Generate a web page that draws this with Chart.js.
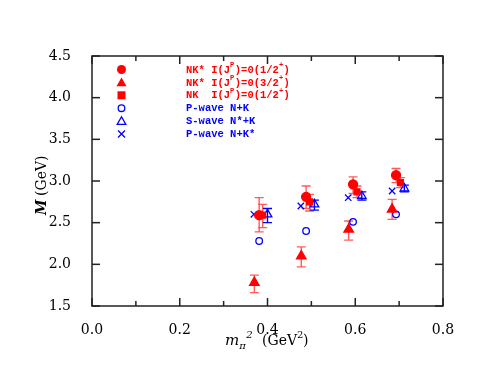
<!DOCTYPE html>
<html>
<head>
<meta charset="utf-8">
<script src="https://cdn.jsdelivr.net/npm/chart.js@4/dist/chart.umd.min.js"></script>
<style>
  html, body { margin: 0; padding: 0; background: #fff; }
  #wrap { width: 491px; height: 379px; }
</style>
</head>
<body>
<div id="wrap"><canvas id="c" width="491" height="379"></canvas></div>
<script>
// NK* I(J^P)=0(1/2+)  filled circles
const nkHalfX = [0.381, 0.488, 0.595, 0.693];
const nkHalfY = [2.59, 2.81, 2.96, 3.07];
const nkHalfHi = [2.80, 2.94, 3.05, 3.15];
const nkHalfLo = [2.39, 2.67, 2.85, 2.98];

// NK* I(J^P)=0(3/2+)  filled triangles
const nkThreeX = [0.370, 0.477, 0.585, 0.684];
const nkThreeY = [1.78, 2.10, 2.42, 2.66];
const nkThreeHi = [1.87, 2.21, 2.52, 2.78];
const nkThreeLo = [1.66, 1.97, 2.29, 2.54];

// NK I(J^P)=0(1/2+)  filled squares
const nkX = [0.389, 0.496, 0.604, 0.703];
const nkY = [2.59, 2.75, 2.87, 2.98];
const nkHi = [2.72, 2.84, 2.94, 3.04];
const nkLo = [2.44, 2.64, 2.80, 2.92];

// P-wave N+K  open circles
const pNKX = [0.381, 0.488, 0.595, 0.693];
const pNKY = [2.28, 2.40, 2.51, 2.60];

// S-wave N*+K  open triangles
const sNsKX = [0.400, 0.507, 0.615, 0.712];
const sNsKY = [2.60, 2.72, 2.82, 2.91];
const sNsKHi = [2.67, 2.77, 2.87, 2.95];
const sNsKLo = [2.50, 2.65, 2.77, 2.87];

// P-wave N+K*  crosses
const pNKsX = [0.369, 0.476, 0.584, 0.684];
const pNKsY = [2.60, 2.70, 2.80, 2.88];

const xTicks = [0.0, 0.2, 0.4, 0.6, 0.8];
const xMinorTicks = [0.1, 0.3, 0.5, 0.7];
const yTicks = [1.5, 2.0, 2.5, 3.0, 3.5, 4.0, 4.5];

const RED = "#ff0000";
const BLUE = "#0000ff";
const RED_ERR = "rgba(255,50,50,0.8)";

const pts = (xs, ys) => xs.map((x, i) => ({ x: x, y: ys[i] }));

const legendItems = [
    { style: "circle", fill: true, color: RED, label: ["NK* I(J", "P", ")=0(1/2", "+", ")"] },
    { style: "triangle", fill: true, color: RED, label: ["NK* I(J", "P", ")=0(3/2", "+", ")"] },
    { style: "rect", fill: true, color: RED, label: ["NK  I(J", "P", ")=0(1/2", "+", ")"] },
    { style: "circle", fill: false, color: BLUE, label: ["P-wave N+K"] },
    { style: "triangle", fill: false, color: BLUE, label: ["S-wave N*+K"] },
    { style: "crossRot", fill: false, color: BLUE, label: ["P-wave N+K*"] },
];

function ds(label, xs, ys, style, fill, color, r, lo, hi, ecol) {
    return {
        label: label,
        data: pts(xs, ys),
        pointStyle: style,
        pointRadius: r,
        pointHoverRadius: r,
        borderWidth: 1.3,
        borderColor: color,
        backgroundColor: fill ? color : "rgba(0,0,0,0)",
        errLo: lo, errHi: hi, errColor: ecol,
    };
}

const errorBars = {
    id: "errorBars",
    beforeDatasetsDraw(chart) {
        const ctx = chart.ctx;
        const xs = chart.scales.x, ys = chart.scales.y;
        chart.data.datasets.forEach(d => {
            if (!d.errLo) return;
            ctx.save();
            ctx.strokeStyle = d.errColor;
            ctx.lineWidth = 1.4;
            d.data.forEach((p, i) => {
                const px = xs.getPixelForValue(p.x);
                const y1 = ys.getPixelForValue(d.errHi[i]);
                const y2 = ys.getPixelForValue(d.errLo[i]);
                ctx.beginPath();
                ctx.moveTo(px, y1); ctx.lineTo(px, y2);
                ctx.moveTo(px - 4.5, y1); ctx.lineTo(px + 4.5, y1);
                ctx.moveTo(px - 4.5, y2); ctx.lineTo(px + 4.5, y2);
                ctx.stroke();
            });
            ctx.restore();
        });
    }
};

function marker(ctx, style, fill, color, x, y) {
    ctx.save();
    ctx.strokeStyle = color;
    ctx.fillStyle = color;
    ctx.lineWidth = 1.3;
    ctx.beginPath();
    if (style === "circle") {
        ctx.arc(x, y, fill ? 4.5 : 3.3, 0, Math.PI * 2);
    } else if (style === "triangle") {
        const s = fill ? 5 : 4.3;
        ctx.moveTo(x, y - s); ctx.lineTo(x + s, y + s * 0.75); ctx.lineTo(x - s, y + s * 0.75); ctx.closePath();
    } else if (style === "rect") {
        ctx.rect(x - 4, y - 4, 8, 8);
    } else {
        ctx.moveTo(x - 3.5, y - 3.5); ctx.lineTo(x + 3.5, y + 3.5);
        ctx.moveTo(x + 3.5, y - 3.5); ctx.lineTo(x - 3.5, y + 3.5);
    }
    if (fill) ctx.fill(); else ctx.stroke();
    ctx.restore();
}

function tick(ctx, x1, y1, x2, y2) {
    ctx.beginPath();
    ctx.moveTo(x1, y1);
    ctx.lineTo(x2, y2);
    ctx.stroke();
}

const frame = {
    id: "frame",
    afterDraw(chart) {
        const ctx = chart.ctx;
        const a = chart.chartArea;
        const xs = chart.scales.x, ys = chart.scales.y;
        ctx.save();
        ctx.strokeStyle = "#222";
        ctx.lineWidth = 1.5;
        ctx.strokeRect(a.left, a.top, a.right - a.left, a.bottom - a.top);
        xTicks.concat(xMinorTicks).forEach(v => {
            const px = xs.getPixelForValue(v);
            const len = xMinorTicks.includes(v) ? 5 : 8;
            tick(ctx, px, a.bottom, px, a.bottom - len);
            tick(ctx, px, a.top, px, a.top + len);
        });
        yTicks.forEach(v => {
            const py = ys.getPixelForValue(v);
            tick(ctx, a.left, py, a.left + 8, py);
            tick(ctx, a.right, py, a.right - 8, py);
        });

        // axis titles
        ctx.fillStyle = "#000";
        ctx.textBaseline = "alphabetic";
        ctx.textAlign = "left";
        const x0 = 225;
        ctx.font = "italic 15px 'DejaVu Serif'";
        ctx.fillText("m", x0, 345);
        const w = ctx.measureText("m").width;
        ctx.font = "italic 10px 'DejaVu Serif'";
        ctx.fillText("\u03c0", x0 + w, 349);
        ctx.fillText("2", x0 + w + 7, 338);
        ctx.font = "14px 'DejaVu Serif'";
        const gx = 262;
        ctx.fillText("(GeV", gx, 345);
        const w2 = ctx.measureText("(GeV").width;
        ctx.font = "10px 'DejaVu Serif'";
        ctx.fillText("2", gx + w2, 338);
        ctx.font = "14px 'DejaVu Serif'";
        ctx.fillText(")", gx + w2 + 6, 345);

        ctx.save();
        ctx.translate(46, 215);
        ctx.rotate(-Math.PI / 2);
        ctx.font = "bold italic 14px 'DejaVu Serif'";
        ctx.fillText("M", 0, 0);
        ctx.font = "14px 'DejaVu Serif'";
        ctx.fillText("(GeV)", 19, 0);
        ctx.restore();

        // legend
        legendItems.forEach((it, i) => {
            const y = 69.5 + i * 12.9;
            marker(ctx, it.style, it.fill, it.color, 121.5, y);
            ctx.fillStyle = it.color;
            ctx.textAlign = "left";
            ctx.textBaseline = "middle";
            let tx = 186;
            it.label.forEach((part, k) => {
                const sup = k % 2 === 1;
                ctx.font = sup ? "bold 7px 'Liberation Mono'" : "bold 10.5px 'Liberation Mono'";
                ctx.fillText(part, tx, sup ? y - 4 : y + 0.5);
                tx += ctx.measureText(part).width + (sup ? 0.5 : 0);
            });
        });
        ctx.restore();
    }
};

new Chart(document.getElementById("c"), {
    type: "scatter",
    data: {
        datasets: [
            ds("NK* 1/2+", nkHalfX, nkHalfY, "circle", true, RED, 4.5, nkHalfLo, nkHalfHi, RED_ERR),
            ds("NK* 3/2+", nkThreeX, nkThreeY, "triangle", true, RED, 5.5, nkThreeLo, nkThreeHi, RED_ERR),
            ds("NK 1/2+", nkX, nkY, "rect", true, RED, 4.2, nkLo, nkHi, RED_ERR),
            ds("P-wave N+K", pNKX, pNKY, "circle", false, BLUE, 3.3),
            ds("S-wave N*+K", sNsKX, sNsKY, "triangle", false, BLUE, 5, sNsKLo, sNsKHi, BLUE),
            ds("P-wave N+K*", pNKsX, pNKsY, "crossRot", false, BLUE, 4.5),
        ]
    },
    options: {
        responsive: false,
        animation: false,
        events: [],
        layout: { padding: { left: 0, right: 48, top: 56, bottom: 0 } },
        plugins: { legend: { display: false }, tooltip: { enabled: false } },
        scales: {
            x: {
                type: "linear", min: 0, max: 0.8,
                grid: { display: false },
                border: { display: false },
                afterFit: s => { s.height = 73; },
                afterBuildTicks: s => { s.ticks = xTicks.map(v => ({ value: v })); },
                ticks: {
                    padding: 8,
                    color: "#000",
                    font: { family: "'DejaVu Serif'", size: 14 },
                    callback: v => v.toFixed(1),
                },
            },
            y: {
                type: "linear", min: 1.5, max: 4.5,
                grid: { display: false },
                border: { display: false },
                afterFit: s => { s.width = 92; },
                afterBuildTicks: s => { s.ticks = yTicks.map(v => ({ value: v })); },
                ticks: {
                    padding: 13,
                    color: "#000",
                    font: { family: "'DejaVu Serif'", size: 14 },
                    callback: v => v.toFixed(1),
                },
            }
        }
    },
    plugins: [errorBars, frame]
});
</script>
</body>
</html>
